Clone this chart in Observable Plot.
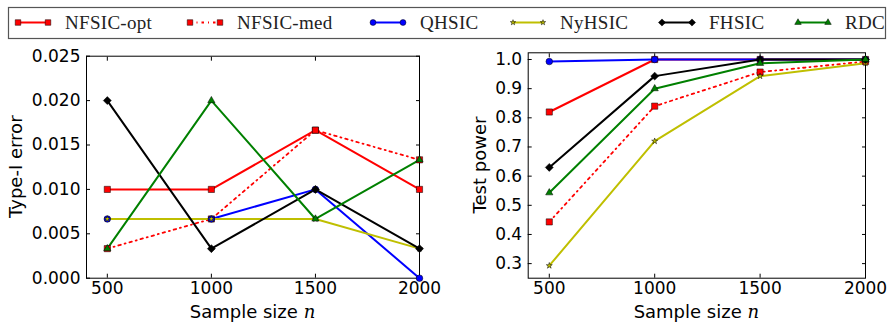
<!DOCTYPE html>
<html><head><meta charset="utf-8">
<script src="https://cdn.jsdelivr.net/npm/d3@7"></script>
<script src="https://cdn.jsdelivr.net/npm/@observablehq/plot@0.6"></script>
<style>
body{margin:0;background:#fff;}
#root{position:relative;width:889px;height:322px;overflow:hidden;background:#fff;}
#root > svg{position:absolute;overflow:visible;}
</style></head><body><div id="root"></div>
<script>
// ---- data ----
const sampleSizes = [500, 1000, 1500, 2000];
const methods = ["NFSIC-opt", "NFSIC-med", "QHSIC", "NyHSIC", "FHSIC", "RDC"];

// Type-I error (left panel)
const errNFSICopt = [0.01, 0.01, 0.01667, 0.01];
const errNFSICmed = [0.00333, 0.00667, 0.01667, 0.01333];
const errQHSIC    = [0.00667, 0.00667, 0.01, 0.0];
const errNyHSIC   = [0.00667, 0.00667, 0.00667, 0.00333];
const errFHSIC    = [0.02, 0.00333, 0.01, 0.00333];
const errRDC      = [0.00333, 0.02, 0.00667, 0.01333];

// Test power (right panel)
const powNFSICopt = [0.82, 1.0, 1.0, 1.0];
const powNFSICmed = [0.443, 0.84, 0.957, 0.993];
const powQHSIC    = [0.993, 1.0, 1.0, 1.0];
const powNyHSIC   = [0.293, 0.72, 0.943, 0.987];
const powFHSIC    = [0.63, 0.943, 1.0, 1.0];
const powRDC      = [0.543, 0.9, 0.987, 1.0];

const xTicks = [500, 1000, 1500, 2000];
const errTicks = [0, 0.005, 0.01, 0.015, 0.02, 0.025];
const powTicks = [0.3, 0.4, 0.5, 0.6, 0.7, 0.8, 0.9, 1.0];

// ---- styles ----
const styles = {
  "NFSIC-opt": {color: "#ff0000", symbol: "square",   r: 3.5, dash: null, w: 2},
  "NFSIC-med": {color: "#ff0000", symbol: "square",   r: 3.5, dash: "2.5,4,1,4", w: 1.8},
  "QHSIC":     {color: "#0000ff", symbol: "circle",   r: 3.3, dash: null, w: 2},
  "NyHSIC":    {color: "#bfbf00", symbol: "star",     r: 1.9, dash: null, w: 2},
  "FHSIC":     {color: "#000000", symbol: "diamond2", r: 3.6, dash: null, w: 2},
  "RDC":       {color: "#008000", symbol: "triangle", r: 2.7, dash: null, w: 2}
};

const errSeries = [errNFSICopt, errNFSICmed, errQHSIC, errNyHSIC, errFHSIC, errRDC];
const powSeries = [powNFSICopt, powNFSICmed, powQHSIC, powNyHSIC, powFHSIC, powRDC];

function rows(series) {
  return methods.map((m, i) => sampleSizes.map((n, j) => ({method: m, n, v: series[i][j]})));
}

const FONT = "DejaVu Sans";

function panel({series, yDomain, yTicks, yFormat, ylabel, width, height, mL, mR, mT, mB, ylabelX}) {
  const data = rows(series);
  const marks = [
    Plot.frame({stroke: "#000", strokeWidth: 1}),
    Plot.axisX(xTicks, {anchor: "bottom", tickSize: -4, tickPadding: 8, label: null, tickFormat: d => String(d)}),
    Plot.axisX(xTicks, {anchor: "top", tickSize: -4, fill: "none", label: null}),
    Plot.axisY(yTicks, {anchor: "left", tickSize: -4, tickPadding: 10, label: null, tickFormat: yFormat}),
    Plot.axisY(yTicks, {anchor: "right", tickSize: -4, fill: "none", label: null})
  ];
  data.forEach(d => {
    const s = styles[d[0].method];
    marks.push(Plot.line(d, {x: "n", y: "v", stroke: s.color, strokeWidth: s.w, strokeDasharray: s.dash}));
  });
  data.forEach(d => {
    const s = styles[d[0].method];
    marks.push(Plot.dot(d, {x: "n", y: "v", symbol: () => s.symbol, r: s.r, fill: s.color, stroke: "#000", strokeWidth: 0.5}));
  });
  const svg = Plot.plot({
    width, height,
    marginLeft: mL, marginRight: mR, marginTop: mT, marginBottom: mB,
    x: {domain: [400, 2000]},
    y: {domain: yDomain},
    symbol: {type: "identity"},
    style: {fontFamily: FONT, fontSize: "17px", color: "#000", background: "transparent", overflow: "visible"},
    marks
  });
  const g = d3.select(svg);
  const cx = (mL + width - mR) / 2;
  const cy = (mT + height - mB) / 2;
  const xl = g.append("text")
    .attr("x", cx).attr("y", height - 4)
    .attr("text-anchor", "middle")
    .attr("font-family", FONT).attr("font-size", 18).attr("fill", "#000");
  xl.append("tspan").text("Sample size ");
  xl.append("tspan").attr("font-family", "DejaVu Serif").attr("font-style", "italic").text("n");
  g.append("text")
    .attr("transform", `translate(${ylabelX},${cy}) rotate(-90)`)
    .attr("text-anchor", "middle")
    .attr("font-family", FONT).attr("font-size", 18).attr("fill", "#000")
    .text(ylabel);
  return svg;
}

const root = document.getElementById("root");

const left = panel({
  series: errSeries, yDomain: [0, 0.025], yTicks: errTicks, yFormat: d3.format(".3f"),
  ylabel: "Type-I error", width: 445, height: 282, mL: 86, mR: 26, mT: 15.7, mB: 44.3, ylabelX: 21.5
});
left.style.left = "0px"; left.style.top = "40px";
root.appendChild(left);

const right = panel({
  series: powSeries, yDomain: [0.25, 1.023], yTicks: powTicks, yFormat: d3.format(".1f"),
  ylabel: "Test power", width: 444, height: 282, mL: 82.7, mR: 24, mT: 12.3, mB: 44.3, ylabelX: 40.5
});
right.style.left = "445px"; right.style.top = "40px";
root.appendChild(right);

// ---- legend ----
const legendX = [18, 190, 373, 513, 662, 798];
const lg = d3.select(root).append("svg")
  .attr("width", 889).attr("height", 45)
  .style("left", "0px").style("top", "0px");
lg.append("rect").attr("x", 8.5).attr("y", 7.5).attr("width", 877).attr("height", 31)
  .attr("fill", "#fff").attr("stroke", "#555").attr("stroke-width", 1.2);
const symMap = {square: d3.symbolSquare, circle: d3.symbolCircle, star: d3.symbolStar, diamond2: d3.symbolDiamond2, triangle: d3.symbolTriangle};
methods.forEach((m, i) => {
  const s = styles[m];
  const x0 = legendX[i], y0 = 22.5;
  lg.append("line").attr("x1", x0).attr("x2", x0 + 30).attr("y1", y0).attr("y2", y0)
    .attr("stroke", s.color).attr("stroke-width", s.w).attr("stroke-dasharray", s.dash);
  [x0, x0 + 30].forEach(px => {
    lg.append("path").attr("transform", `translate(${px},${y0})`)
      .attr("d", d3.symbol().type(symMap[s.symbol]).size(Math.PI * s.r * s.r * 0.8)())
      .attr("fill", s.color).attr("stroke", "#000").attr("stroke-width", 0.5);
  });
  lg.append("text").attr("x", x0 + 47).attr("y", 29.3)
    .attr("font-family", "Liberation Serif").attr("font-size", 19)
    .attr("letter-spacing", 0.3).attr("fill", "#222").text(m);
});
</script>
</body></html>
